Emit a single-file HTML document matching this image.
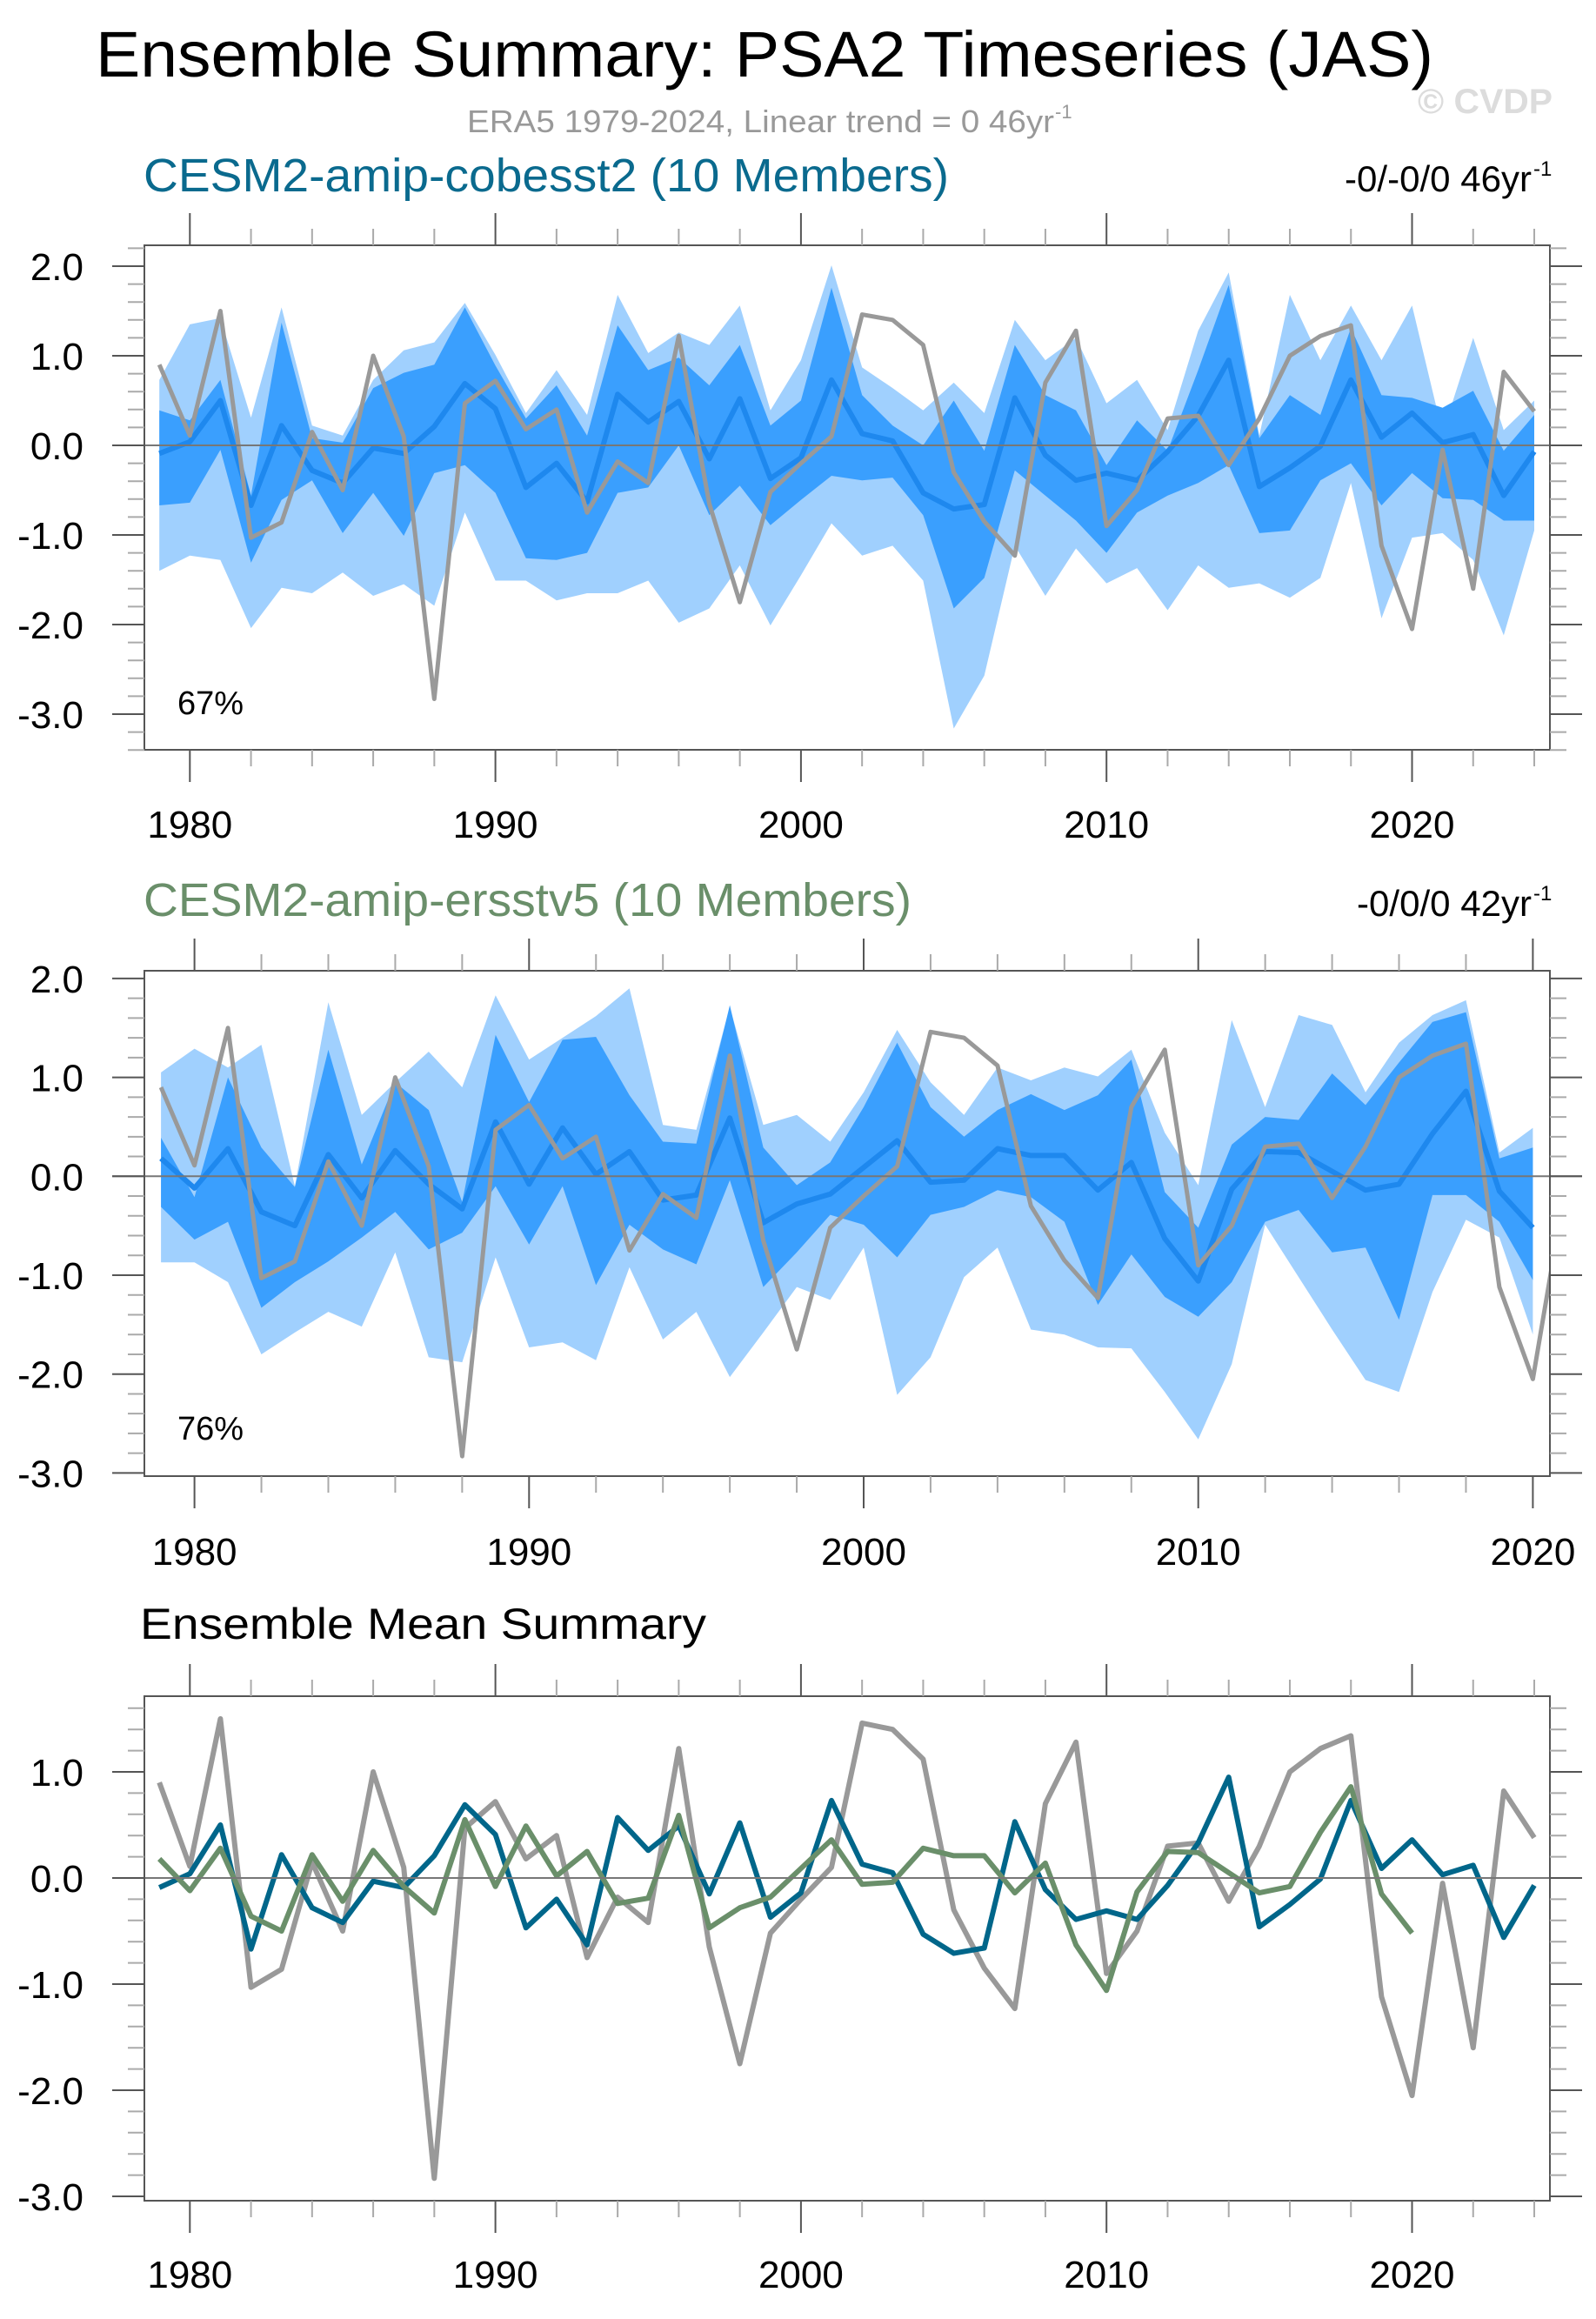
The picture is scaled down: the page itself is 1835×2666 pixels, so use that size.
<!DOCTYPE html>
<html><head><meta charset="utf-8"><style>
html,body{margin:0;padding:0;background:#fff}
svg{display:block}
text{font-family:"Liberation Sans",sans-serif}
</style></head><body>
<svg id="chart" width="1835" height="2666" viewBox="0 0 1835 2666" xmlns="http://www.w3.org/2000/svg">
<text x="110" y="88" font-size="74" textLength="1538" lengthAdjust="spacingAndGlyphs">Ensemble Summary: PSA2 Timeseries (JAS)</text>
<text x="1630" y="130" font-size="40" font-weight="bold" fill="#dcdcdc" textLength="155" lengthAdjust="spacingAndGlyphs">© CVDP</text>
<text x="537" y="152" font-size="36" fill="#999" textLength="675" lengthAdjust="spacingAndGlyphs">ERA5 1979-2024, Linear trend = 0 46yr</text>
<text x="1213" y="136" font-size="22" fill="#999">-1</text>
<text x="165" y="220" font-size="54" fill="#0a6a8e" textLength="926" lengthAdjust="spacingAndGlyphs">CESM2-amip-cobesst2 (10 Members)</text>
<text x="1546" y="220" font-size="42" textLength="215" lengthAdjust="spacingAndGlyphs">-0/-0/0 46yr</text>
<text x="1763" y="202" font-size="24">-1</text>
<text x="165" y="1053" font-size="54" fill="#6a8f6a" textLength="883" lengthAdjust="spacingAndGlyphs">CESM2-amip-ersstv5 (10 Members)</text>
<text x="1560" y="1053" font-size="42" textLength="201" lengthAdjust="spacingAndGlyphs">-0/0/0 42yr</text>
<text x="1763" y="1035" font-size="24">-1</text>
<text x="161" y="1884" font-size="50" textLength="651" lengthAdjust="spacingAndGlyphs">Ensemble Mean Summary</text>
<text x="204" y="821" font-size="38">67%</text>
<text x="204" y="1655" font-size="38">76%</text>
</svg>
<script>
const years = [];
for (let y = 1979; y <= 2024; y++) years.push(y);
const obs = [0.90,0.11,1.50,-1.03,-0.86,0.15,-0.50,1.00,0.10,-2.83,0.47,0.72,0.18,0.40,-0.75,-0.18,-0.42,1.22,-0.65,-1.75,-0.52,-0.20,0.10,1.46,1.40,1.12,-0.30,-0.85,-1.23,0.70,1.28,-0.90,-0.50,0.30,0.33,-0.22,0.30,1.00,1.22,1.34,-1.12,-2.05,-0.05,-1.60,0.82,0.38];
const cobMean = [-0.09,0.04,0.50,-0.67,0.22,-0.28,-0.42,-0.03,-0.09,0.21,0.69,0.41,-0.47,-0.20,-0.63,0.57,0.26,0.49,-0.15,0.52,-0.37,-0.14,0.73,0.13,0.05,-0.53,-0.71,-0.66,0.53,-0.11,-0.39,-0.31,-0.39,-0.07,0.33,0.95,-0.46,-0.25,-0.01,0.73,0.09,0.36,0.03,0.12,-0.56,-0.07];
const cobLightHi = [0.73,1.35,1.42,0.31,1.54,0.22,0.11,0.73,1.06,1.15,1.59,1.01,0.36,0.84,0.34,1.68,1.03,1.26,1.12,1.56,0.39,0.95,2.01,0.87,0.64,0.39,0.70,0.36,1.40,0.95,1.20,0.47,0.73,0.17,1.28,1.93,0.11,1.68,0.95,1.56,0.95,1.56,0.14,1.20,0.17,0.50];
const cobDarkHi = [0.39,0.28,0.73,-0.56,1.37,0.08,0.03,0.64,0.81,0.90,1.54,0.89,0.30,0.67,0.11,1.34,0.84,0.98,0.67,1.12,0.22,0.50,1.76,0.56,0.22,0.00,0.50,-0.06,1.12,0.56,0.39,-0.22,0.28,-0.06,0.84,1.79,0.08,0.56,0.34,1.31,0.56,0.53,0.42,0.61,-0.06,0.34];
const cobDarkLo = [-0.67,-0.64,-0.05,-1.31,-0.61,-0.39,-0.98,-0.53,-1.01,-0.31,-0.22,-0.53,-1.26,-1.28,-1.20,-0.53,-0.47,0.00,-0.78,-0.45,-0.89,-0.61,-0.34,-0.39,-0.36,-0.78,-1.82,-1.48,-0.28,-0.56,-0.84,-1.20,-0.75,-0.56,-0.42,-0.22,-0.98,-0.95,-0.39,-0.20,-0.67,-0.31,-0.59,-0.61,-0.84,-0.84];
const cobLightLo = [-1.40,-1.23,-1.28,-2.04,-1.59,-1.65,-1.42,-1.68,-1.55,-1.79,-0.75,-1.51,-1.51,-1.73,-1.65,-1.65,-1.51,-1.98,-1.82,-1.34,-2.01,-1.45,-0.87,-1.23,-1.12,-1.51,-3.16,-2.57,-1.12,-1.68,-1.15,-1.54,-1.37,-1.84,-1.34,-1.59,-1.54,-1.70,-1.48,-0.42,-1.93,-1.03,-0.98,-1.28,-2.12,-0.95];
const ersMean = [0.18,-0.12,0.28,-0.36,-0.50,0.22,-0.22,0.26,-0.08,-0.33,0.55,-0.08,0.49,0.02,0.25,-0.24,-0.19,0.59,-0.47,-0.28,-0.18,0.09,0.36,-0.06,-0.04,0.28,0.21,0.21,-0.14,0.14,-0.63,-1.06,-0.13,0.25,0.24,0.05,-0.14,-0.08,0.43,0.86,-0.15,-0.52];
const ersLightHi = [1.05,1.29,1.10,1.33,-0.10,1.76,0.62,0.95,1.26,0.90,1.83,1.18,1.40,1.62,1.90,0.52,0.47,1.71,0.52,0.62,0.35,0.85,1.48,0.95,0.62,1.10,0.97,1.10,1.01,1.28,0.44,-0.09,1.58,0.70,1.63,1.53,0.85,1.35,1.63,1.78,0.24,0.49];
const ersDarkHi = [0.39,-0.21,1.00,0.29,-0.11,1.28,0.12,0.95,0.67,-0.26,1.43,0.75,1.38,1.41,0.82,0.35,0.33,1.73,0.29,-0.09,0.14,0.70,1.35,0.70,0.40,0.67,0.83,0.67,0.82,1.18,-0.16,-0.52,0.32,0.60,0.57,1.04,0.72,1.15,1.56,1.66,0.18,0.29];
const ersDarkLo = [-0.31,-0.64,-0.46,-1.33,-1.07,-0.86,-0.62,-0.36,-0.74,-0.57,-0.10,-0.69,-0.10,-1.10,-0.49,-0.74,-0.89,-0.04,-1.12,-0.77,-0.39,-0.49,-0.82,-0.39,-0.31,-0.14,-0.21,-0.46,-1.30,-0.79,-1.22,-1.42,-1.07,-0.46,-0.34,-0.77,-0.72,-1.45,-0.19,-0.19,-0.46,-1.05];
const ersLightLo = [-0.87,-0.87,-1.07,-1.80,-1.58,-1.37,-1.52,-0.77,-1.83,-1.88,-0.82,-1.73,-1.68,-1.86,-0.92,-1.65,-1.37,-2.03,-1.58,-1.12,-1.25,-0.72,-2.21,-1.83,-1.02,-0.72,-1.55,-1.60,-1.73,-1.74,-2.18,-2.66,-1.90,-0.49,-1.02,-1.55,-2.06,-2.18,-1.17,-0.44,-0.62,-1.60];
const yTickLabels = ["2.0","1.0","0.0","-1.0","-2.0","-3.0"];
const yTickValues = [2,1,0,-1,-2,-3];
const xTickYears = [1980,1990,2000,2010,2020];

const NS = "http://www.w3.org/2000/svg";
const svg = document.getElementById('chart');
function mk(tag, attrs, parent) {
  const e = document.createElementNS(NS, tag);
  for (const k in attrs) e.setAttribute(k, attrs[k]);
  (parent || svg).appendChild(e);
  return e;
}

function panel(cfg) {
  const g = mk('g', {});
  
  
  const xs = yr => cfg.x1980 + (yr - 1980) * cfg.pxYr;
  const ys = v => cfg.y0 + -v * cfg.unit;
  const clipId = cfg.name + '-clip';
  const defs = mk('defs', {}, g);
  const cp = mk('clipPath', {id: clipId}, defs);
  mk('rect', {x: cfg.left, y: cfg.top, width: cfg.right - cfg.left, height: cfg.bottom - cfg.top}, cp);
  const plot = mk('g', {'clip-path': 'url(#' + clipId + ')'}, g);
  function band(hi, lo, color, name) {
    let d = '';
    hi.forEach((v, i) => { d += (i ? 'L' : 'M') + xs(years[i]).toFixed(1) + ',' + ys(v).toFixed(1); });
    for (let i = lo.length - 1; i >= 0; i--) d += 'L' + xs(years[i]).toFixed(1) + ',' + ys(lo[i]).toFixed(1);
    const p = mk('path', {d: d + 'Z', fill: color}, plot);
    
    
  }
  function line(vals, color, w, name) {
    const pts = vals.map((v, i) => xs(years[i]).toFixed(1) + ',' + ys(v).toFixed(1)).join(' ');
    const p = mk('polyline', {points: pts, fill: 'none', stroke: color, 'stroke-width': w, 'stroke-linejoin': 'round'}, plot);
    
    
  }
  if (cfg.bands) {
    band(cfg.bands[0], cfg.bands[3], '#a0d0fe', 'outer-spread-band');
    band(cfg.bands[1], cfg.bands[2], '#3a9ffe', 'inner-spread-band');
  }
  const z = mk('line', {x1: cfg.left - 37, x2: cfg.right + 37, y1: ys(0), y2: ys(0), stroke: '#777', 'stroke-width': 2}, g);
  
  
  cfg.lines.forEach(l => line(l.vals, l.color, l.w, l.name));
  const fr = mk('rect', {x: cfg.left, y: cfg.top, width: cfg.right - cfg.left, height: cfg.bottom - cfg.top, fill: 'none', stroke: '#555', 'stroke-width': 2}, g);
  
  
  for (let yr = 1980; yr <= cfg.lastYr; yr += 2) {
    const x = xs(yr);
    const major = yr % 10 === 0;
    const L = major ? 37 : 19;
    const c = major ? '#555' : '#aaa';
    mk('line', {x1: x, x2: x, y1: cfg.top - L, y2: cfg.top, stroke: c, 'stroke-width': 2}, g);
    mk('line', {x1: x, x2: x, y1: cfg.bottom, y2: cfg.bottom + L, stroke: c, 'stroke-width': 2}, g);
  }
  xTickYears.forEach(yr => {
    const t = mk('text', {x: xs(yr), y: cfg.xLabelY, 'font-size': 44, 'text-anchor': 'middle'}, g);
    t.textContent = String(yr);
    
    
  });
  for (let k = -40; k <= 30; k++) {
    const v = k / 10;
    if (Math.abs(k) % 2 !== 0) continue;
    const y = ys(v);
    if (y < cfg.top - 1 || y > cfg.bottom + 1) continue;
    const major = k % 10 === 0;
    const L = major ? 37 : 19;
    const c = major ? '#555' : '#aaa';
    mk('line', {x1: cfg.left - L, x2: cfg.left, y1: y, y2: y, stroke: c, 'stroke-width': 2}, g);
    mk('line', {x1: cfg.right, x2: cfg.right + L, y1: y, y2: y, stroke: c, 'stroke-width': 2}, g);
  }
  yTickValues.forEach((v, i) => {
    const y = ys(v);
    if (y < cfg.top - 1 || y > cfg.bottom + 1) return;
    const t = mk('text', {x: 96, y: y + 16, 'font-size': 44, 'text-anchor': 'end'}, g);
    t.textContent = yTickLabels[i];
    
    
  });
}

panel({name: 'panel-cobesst2', left: 166, right: 1782, top: 282, bottom: 862, y0: 512, unit: 103, x1980: 218.3, pxYr: 35.13, lastYr: 2024, xLabelY: 963,
  bands: [cobLightHi, cobDarkHi, cobDarkLo, cobLightLo],
  lines: [{vals: cobMean, color: '#1e88ee', w: 6, name: 'ensemble-mean-line'}, {vals: obs, color: '#999', w: 5, name: 'obs-line'}]});
panel({name: 'panel-ersstv5', left: 166, right: 1782, top: 1116, bottom: 1697, y0: 1352.3, unit: 113.7, x1980: 223.6, pxYr: 38.47, lastYr: 2020, xLabelY: 1799,
  bands: [ersLightHi, ersDarkHi, ersDarkLo, ersLightLo],
  lines: [{vals: ersMean, color: '#1e88ee', w: 6, name: 'ensemble-mean-line'}, {vals: obs, color: '#999', w: 5, name: 'obs-line'}]});
panel({name: 'panel-ensemble-means', left: 166, right: 1782, top: 1950, bottom: 2530, y0: 2159, unit: 122, x1980: 218.3, pxYr: 35.13, lastYr: 2024, xLabelY: 2630,
  bands: null,
  lines: [{vals: obs, color: '#999', w: 6, name: 'obs-line'}, {vals: cobMean, color: '#00668a', w: 6, name: 'cobesst2-mean-line'}, {vals: ersMean, color: '#6a8f6a', w: 6, name: 'ersstv5-mean-line'}]});
</script>
</body></html>
